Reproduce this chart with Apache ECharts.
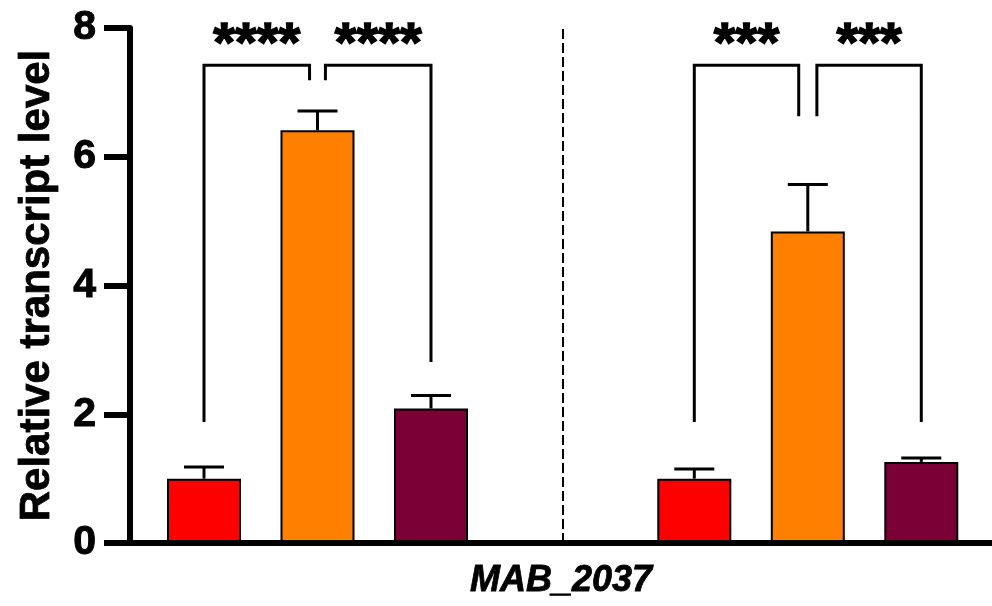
<!DOCTYPE html>
<html><head><meta charset="utf-8">
<script src="https://cdn.jsdelivr.net/npm/echarts@6/dist/echarts.min.js"></script>
<style>html,body{margin:0;padding:0;background:#fff}#c{width:992px;height:606px}</style>
</head><body><div id="c"></div>
<script>
// ---- data ----
const barPositions = [1, 2, 3, 5.32, 6.32, 7.32];
const barValues = [1.0, 6.41, 2.09, 1.0, 4.84, 1.26];
const errorUpper = [1.18, 6.71, 2.29, 1.15, 5.57, 1.32];
const barColors = ['#FF0000', '#FF7F00', '#7A0036', '#FF0000', '#FF7F00', '#7A0036'];
const yTickInterval = 2;
const yMin = 0, yMax = 8;
const xMin = 0.348, xMax = 7.943;
const dividerX = 4.16;
const bracketLeft = [1, 2.07, 5.32, 6.40];
const bracketRight = [1.93, 3, 6.24, 7.32];
const bracketTop = [7.42, 7.42, 7.42, 7.42];
const bracketLeftEnd = [1.88, 7.19, 1.88, 6.63];
const bracketRightEnd = [7.19, 2.81, 6.63, 1.88];
const bracketLabels = ['****', '****', '***', '***'];
const xAxisTitle = 'MAB_2037';
const yAxisTitle = 'Relative transcript level';

const FONT = '"Liberation Sans", Arial, sans-serif';
const chart = echarts.init(document.getElementById('c'), null, {renderer: 'canvas'});

const barData = barPositions.map((x, i) => ({value: [x, barValues[i]], itemStyle: {color: barColors[i]}}));
const errData = barPositions.map((x, i) => [x, barValues[i], errorUpper[i]]);
const bracketData = bracketLeft.map((l, i) => [l, bracketRight[i], bracketTop[i], bracketLeftEnd[i], bracketRightEnd[i], i]);

chart.setOption({
  animation: false,
  backgroundColor: '#fff',
  grid: {left: 130, right: 0, top: 28, bottom: 63, containLabel: false},
  xAxis: {
    type: 'value', min: xMin, max: xMax, z: 5,
    axisLine: {show: true, lineStyle: {color: '#000', width: 6}},
    axisTick: {show: false}, axisLabel: {show: false}, splitLine: {show: false},
    name: xAxisTitle, nameLocation: 'middle', nameGap: 20,
    nameTextStyle: {fontFamily: FONT, fontWeight: 'bold', fontStyle: 'italic', fontSize: 36, color: '#000', textBorderColor: '#000', textBorderWidth: 0.8}
  },
  yAxis: {
    type: 'value', min: yMin, max: yMax, interval: yTickInterval, z: 5,
    axisLine: {show: true, lineStyle: {color: '#000', width: 6}},
    axisTick: {show: true, length: 26, lineStyle: {color: '#000', width: 6}},
    axisLabel: {fontFamily: FONT, fontWeight: 'bold', fontSize: 41, color: '#000', margin: 34, textBorderColor: '#000', textBorderWidth: 1},
    splitLine: {show: false},
    name: yAxisTitle, nameLocation: 'middle', nameGap: 72,
    nameTextStyle: {fontFamily: FONT, fontWeight: 'bold', fontSize: 42, color: '#000', textBorderColor: '#000', textBorderWidth: 0.8}
  },
  series: [
    {
      type: 'custom', z: 1,
      renderItem(params, api) {
        const p0 = api.coord([api.value(0), api.value(1)]);
        const p1 = api.coord([api.value(0), api.value(2)]);
        return {type: 'group', children: [
          {type: 'line', shape: {x1: p0[0], y1: p0[1], x2: p1[0], y2: p1[1]}, style: {stroke: '#000', lineWidth: 3}},
          {type: 'line', shape: {x1: p1[0] - 20, y1: p1[1], x2: p1[0] + 20, y2: p1[1]}, style: {stroke: '#000', lineWidth: 3}}
        ]};
      },
      data: errData
    },
    {
      type: 'bar', z: 2, barWidth: 74,
      itemStyle: {borderColor: '#000', borderWidth: 2},
      data: barData,
      markLine: {
        silent: true, symbol: 'none', label: {show: false},
        lineStyle: {color: '#000', width: 2, type: [10, 4]},
        data: [{xAxis: dividerX}]
      }
    },
    {
      type: 'custom', z: 3,
      renderItem(params, api) {
        const l = api.value(0), r = api.value(1), t = api.value(2), le = api.value(3), re = api.value(4);
        const idx = api.value(5);
        const a = api.coord([l, le]), b = api.coord([l, t]), c = api.coord([r, t]), d = api.coord([r, re]);
        return {type: 'group', children: [
          {type: 'polyline', shape: {points: [a, b, c, d]}, style: {stroke: '#000', lineWidth: 3, fill: null}},
          {type: 'text', x: (b[0] + c[0]) / 2, y: b[1] + 8,
           style: {text: bracketLabels[idx], fontFamily: FONT, fontWeight: 'bold', fontSize: 56, fill: '#000', stroke: '#000', lineWidth: 1.5, align: 'center', verticalAlign: 'bottom'}}
        ]};
      },
      data: bracketData
    }
  ]
});
</script></body></html>
